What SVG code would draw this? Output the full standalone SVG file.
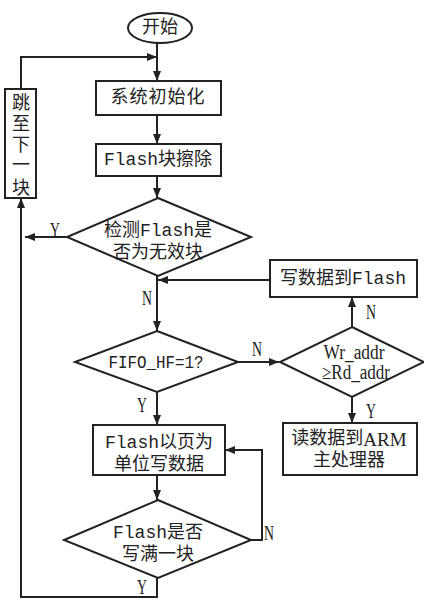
<svg xmlns="http://www.w3.org/2000/svg" width="424" height="600" viewBox="0 0 424 600">
<defs>
<marker id="ah" markerUnits="userSpaceOnUse" markerWidth="10" markerHeight="8" refX="10" refY="4" orient="auto">
<path d="M0,0 L10,4 L0,8 z" fill="#222"/>
</marker>
<style>
.s{fill:#fff;stroke:#222;stroke-width:2}
.c{fill:none;stroke:#222;stroke-width:2;marker-end:url(#ah)}
.t{font-family:"Liberation Mono","Noto Sans CJK SC",monospace;font-size:18px;fill:#222;text-anchor:middle;dominant-baseline:central}
.n{font-family:"Liberation Serif",serif;font-size:20px;fill:#222;text-anchor:middle;dominant-baseline:central}
</style>
</defs>
<rect width="424" height="600" fill="#fff"/>
<g id="connectors">
<path class="c" d="M157,42 V81"/>
<path class="c" d="M21,89 V57 H157"/>
<path class="c" d="M157,115 V144"/>
<path class="c" d="M157,176 V198"/>
<path class="c" d="M67,237 H25"/>
<path class="c" d="M157,276 V331"/>
<path class="c" d="M270,280 H158"/>
<path class="c" d="M238,362 H279"/>
<path class="c" d="M352,327 V297"/>
<path class="c" d="M352,397 V423"/>
<path class="c" d="M157,392 V425"/>
<path class="c" d="M157,475 V500"/>
<path class="c" d="M251,540 H262 V450 H225"/>
<path class="c" d="M157,578 V597 H21 V198"/>
<text class="n" x="55" y="230" textLength="10" lengthAdjust="spacingAndGlyphs">Y</text>
<text class="n" x="147" y="298" textLength="10" lengthAdjust="spacingAndGlyphs">N</text>
<text class="n" x="257" y="349" textLength="10" lengthAdjust="spacingAndGlyphs">N</text>
<text class="n" x="371" y="312" textLength="10" lengthAdjust="spacingAndGlyphs">N</text>
<text class="n" x="371" y="411" textLength="10" lengthAdjust="spacingAndGlyphs">Y</text>
<text class="n" x="142" y="405" textLength="10" lengthAdjust="spacingAndGlyphs">Y</text>
<text class="n" x="269" y="533" textLength="10" lengthAdjust="spacingAndGlyphs">N</text>
<text class="n" x="142" y="587" textLength="10" lengthAdjust="spacingAndGlyphs">Y</text>
</g>
<g id="start">
<ellipse class="s" cx="160" cy="28" rx="32" ry="15"/>
<text class="t" x="160" y="28" font-size="20">开始</text>
</g>
<g id="init">
<rect class="s" x="96" y="81" width="125" height="34"/>
<text class="t" x="158" y="98" font-size="19" letter-spacing="1">系统初始化</text>
</g>
<g id="erase">
<rect class="s" x="96" y="144" width="125" height="32"/>
<text class="t" x="158" y="160">Flash块擦除</text>
</g>
<g id="next">
<rect class="s" x="5" y="89" width="31" height="109"/>
<text class="t" x="21" y="104" font-size="19">跳</text>
<text class="t" x="21" y="125" font-size="19">至</text>
<text class="t" x="21" y="146" font-size="19">下</text>
<text class="t" x="21" y="166" font-size="19">一</text>
<text class="t" x="21" y="189" font-size="19">块</text>
</g>
<g id="check">
<polygon class="s" points="158,198 251,237 158,276 67,237"/>
<text class="t" x="158" y="231">检测Flash是</text>
<text class="t" x="158" y="253">否为无效块</text>
</g>
<g id="fifo">
<polygon class="s" points="157,331 238,362 157,392 75,362"/>
<text class="t" x="156" y="363" textLength="95" lengthAdjust="spacingAndGlyphs">FIFO_HF=1?</text>
</g>
<g id="write">
<rect class="s" x="270" y="260" width="147" height="37"/>
<text class="t" x="343" y="279">写数据到Flash</text>
</g>
<g id="addr">
<polygon class="s" points="352,327 424,362 352,397 280,362"/>
<text class="n" x="354" y="352" font-size="19" textLength="61" lengthAdjust="spacingAndGlyphs">Wr_addr</text>
<text class="n" x="356" y="372" font-size="19" textLength="68" lengthAdjust="spacingAndGlyphs">≥Rd_addr</text>
</g>
<g id="read">
<rect class="s" x="283" y="423" width="134" height="52"/>
<text class="t" x="349" y="439"><tspan>读数据到</tspan><tspan font-family="Liberation Serif" font-size="19">ARM</tspan></text>
<text class="t" x="349" y="461">主处理器</text>
</g>
<g id="page">
<rect class="s" x="93" y="425" width="132" height="50"/>
<text class="t" x="159" y="443">Flash以页为</text>
<text class="t" x="159" y="465">单位写数据</text>
</g>
<g id="full">
<polygon class="s" points="158,500 251,540 158,578 64,540"/>
<text class="t" x="158" y="533">Flash是否</text>
<text class="t" x="158" y="555">写满一块</text>
</g>
</svg>
